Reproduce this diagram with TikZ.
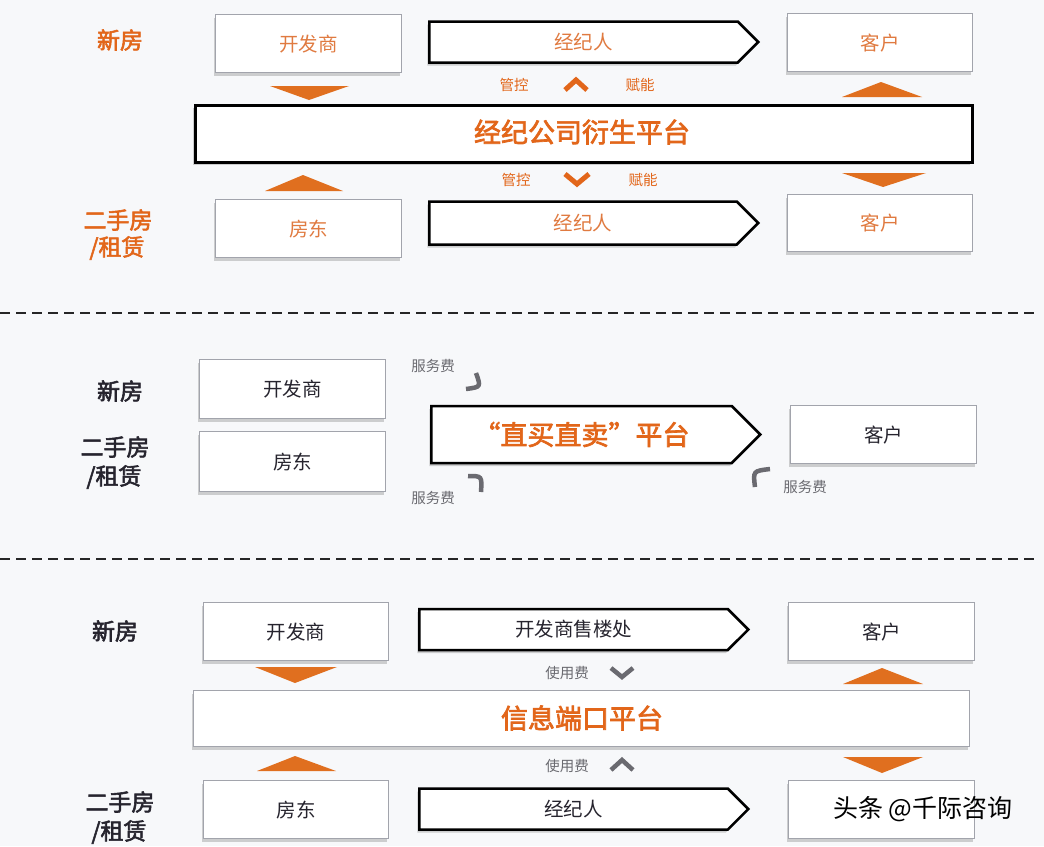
\documentclass[tikz,border=0pt]{standalone}
\usepackage{fontspec}
\newfontfamily\cjk[AutoFakeBold=2.5]{Noto Sans CJK SC}
\usetikzlibrary{shapes.symbols,shadows}
\definecolor{bg}{HTML}{F7F8FA}
\definecolor{org}{HTML}{E2661A}
\definecolor{orgl}{HTML}{E07A40}
\definecolor{tri}{HTML}{E06F1F}
\definecolor{boxgray}{HTML}{A2A4AC}
\definecolor{dark}{HTML}{26242E}
\definecolor{chev}{HTML}{6A6A70}
\begin{document}
\begin{tikzpicture}[x=1pt,y=-1pt,
  shad/.style={drop shadow={shadow xshift=-2pt,shadow yshift=-3pt,fill=black!40,opacity=0.45}},
  gbox/.style={draw=boxgray,line width=1.2pt,fill=white,shad,inner sep=0pt,anchor=north west,
    font=\cjk\fontsize{19.5pt}{19.5pt}\selectfont},
  kbox/.style={draw=black,line width=2.5pt,fill=white,shad,inner sep=0pt,anchor=north west},
  sig/.style={signal,signal to=east,draw=black,line width=2.5pt,fill=white,shad,inner sep=0pt,
    anchor=west,font=\cjk\fontsize{19.5pt}{19.5pt}\selectfont},
  side/.style={font=\cjk\bfseries\fontsize{23pt}{23pt}\selectfont},
  title/.style={font=\cjk\bfseries\fontsize{27pt}{27pt}\selectfont,text=org},
  small/.style={font=\cjk\fontsize{14.5pt}{14.5pt}\selectfont},
  tri/.style={fill=tri},
  ochev/.style={draw=org,line width=5pt,line join=miter,line cap=butt},
  gchev/.style={draw=chev,line width=4.5pt,line join=miter,line cap=butt},
  dashline/.style={draw=black!85,line width=2pt,dash pattern=on 10pt off 6pt}
]
\useasboundingbox[fill=bg] (0,0) rectangle (1044,846);

% ---------------- Section 1 ----------------
\node[side,text=org] (s1new) at (120,40) {新房};
\node[side,text=org] (s1sec) at (118,220) {二手房};
\node[side,text=org] (s1rent) at (117,248) {/租赁};

\node[gbox,minimum width=186pt,minimum height=58pt,text=orgl] (dev1) at (215,14) {开发商};
\node[sig,minimum width=329pt,minimum height=41pt,text=orgl] (ag1) at (428,42) {经纪人};
\node[gbox,minimum width=185pt,minimum height=58pt,text=orgl] (cus1) at (787,13) {客户};

\node[kbox,minimum width=777pt,minimum height=57pt] (plat1) at (194,104) {};
\node[title] (plat1t) at (582,132) {经纪公司衍生平台};

\node[gbox,minimum width=186pt,minimum height=58pt,text=orgl] (own1) at (215,199) {房东};
\node[sig,minimum width=329pt,minimum height=43pt,text=orgl] (ag1b) at (428,223) {经纪人};
\node[gbox,minimum width=185pt,minimum height=57pt,text=orgl] (cus1b) at (787,194) {客户};

\fill[tri] (270,86) -- (349,86) -- (309,100) -- cycle;
\fill[tri] (265,191) -- (343,191) -- (303,175) -- cycle;
\fill[tri] (842,97) -- (922,97) -- (881,82) -- cycle;
\fill[tri] (842,173) -- (926,173) -- (883,187) -- cycle;

\node[small,text=org] (gk1) at (514,85) {管控};
\draw[ochev] (565,90) -- (576,80) -- (587,90);
\node[small,text=org] (fn1) at (640,85) {赋能};
\node[small,text=org] (gk2) at (516,180) {管控};
\draw[ochev] (565,174) -- (577,184) -- (589,174);
\node[small,text=org] (fn2) at (643,180) {赋能};

\draw[dashline] (0,313) -- (1034,313);

% ---------------- Section 2 ----------------
\node[side,text=dark] (s2new) at (120,391) {新房};
\node[side,text=dark] (s2sec) at (115,447) {二手房};
\node[side,text=dark] (s2rent) at (114,477) {/租赁};

\node[gbox,minimum width=186pt,minimum height=59pt,text=dark] (dev2) at (199,359) {开发商};
\node[gbox,minimum width=186pt,minimum height=60pt,text=dark] (own2) at (199,431) {房东};
\node[sig,minimum width=329pt,minimum height=57pt,font=\cjk\bfseries\fontsize{27pt}{27pt}\selectfont,text=org] (plat2) at (430,434.5) {“直买直卖”平台};
\node[gbox,minimum width=186pt,minimum height=58pt,text=dark] (cus2) at (790,405) {客户};

\node[small,text=chev] (fee1) at (433,366) {服务费};
\node[small,text=chev] (fee2) at (433,498) {服务费};
\node[small,text=chev] (fee3) at (805,487) {服务费};
\draw[gchev] (476,373) .. controls (481,387) .. (466,389);
\draw[gchev] (468,476) .. controls (482,476) .. (481,492);
\draw[gchev] (755,487) .. controls (753,471) .. (770,469);

\draw[dashline] (0,559) -- (1034,559);

% ---------------- Section 3 ----------------
\node[side,text=dark] (s3new) at (115,631) {新房};
\node[side,text=dark] (s3sec) at (120,802) {二手房};
\node[side,text=dark] (s3rent) at (119,832) {/租赁};

\node[gbox,minimum width=185pt,minimum height=58pt,text=dark] (dev3) at (203,602) {开发商};
\node[sig,minimum width=329pt,minimum height=41pt,text=dark] (sale3) at (418,629.5) {开发商售楼处};
\node[gbox,minimum width=186pt,minimum height=58pt,text=dark] (cus3) at (788,602) {客户};

\node[gbox,minimum width=776pt,minimum height=56pt] (plat3) at (193,690) {};
\node[title] (plat3t) at (582,718) {信息端口平台};

\node[gbox,minimum width=185pt,minimum height=58pt,text=dark] (own3) at (203,780) {房东};
\node[sig,minimum width=329pt,minimum height=41pt,text=dark] (ag3) at (418,809) {经纪人};
\node[gbox,minimum width=186pt,minimum height=58pt,text=dark] (cus3b) at (788,780) {};

\fill[tri] (255,667) -- (337,667) -- (295,683) -- cycle;
\fill[tri] (257,771) -- (336,771) -- (295,756) -- cycle;
\fill[tri] (843,684) -- (923,684) -- (882,668) -- cycle;
\fill[tri] (843,757) -- (923,757) -- (882,773) -- cycle;

\node[small,text=chev] (use1) at (567,673) {使用费};
\draw[gchev] (611,668) -- (622,677) -- (633,668);
\node[small,text=chev] (use2) at (567,766) {使用费};
\draw[gchev] (611,770) -- (622,760) -- (633,770);

\node[font=\cjk\fontsize{25pt}{25pt}\selectfont,text=black] (wm) at (923,809) {头条 @千际咨询};
\end{tikzpicture}
\end{document}
